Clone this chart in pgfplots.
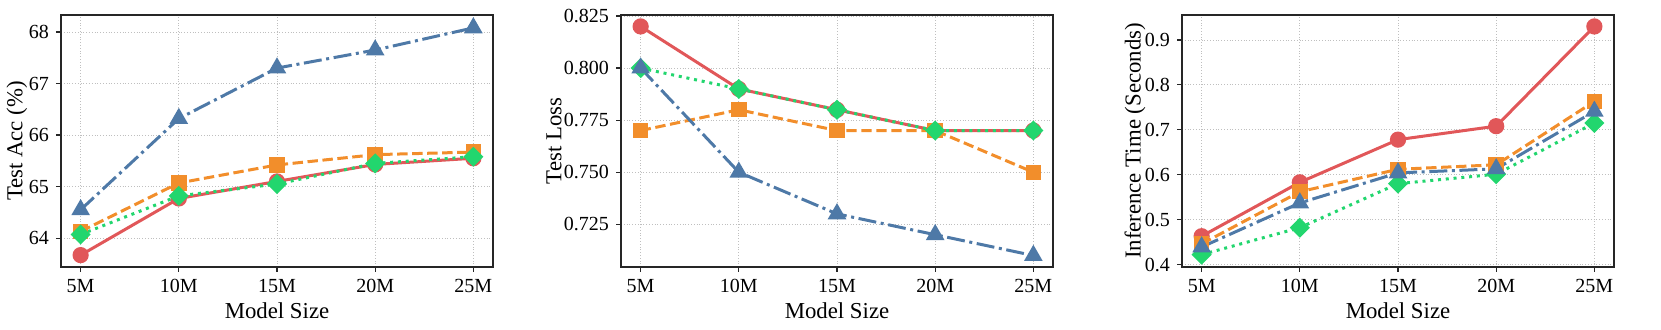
\documentclass[border=0pt]{standalone}
\usepackage{pgfplots}
\pgfplotsset{compat=1.18}
\usepackage{fontspec}
\setmainfont{Liberation Serif}
\definecolor{cred}{HTML}{E15759}
\definecolor{corange}{HTML}{F28E2B}
\definecolor{cblue}{HTML}{4E79A7}
\definecolor{cgreen}{HTML}{22D66E}
\pgfplotsset{
  common/.style={
    scale only axis, width=216pt, height=126pt,
    anchor=south west,
    xmin=-0.2, xmax=4.2,
    xtick={0,1,2,3,4}, xticklabels={5M,10M,15M,20M,25M},
    grid=major,
    major grid style={densely dotted, line width=0.4pt, black!25},
    axis line style={line width=0.6pt, black!85},
    tick style={line width=0.6pt, black!85},
    tick align=outside, major tick length=2.5pt,
    xtick pos=bottom, ytick pos=left,
    tick label style={font=\fontsize{10pt}{11pt}\selectfont},
    label style={font=\fontsize{11.4pt}{13pt}\selectfont},
    /pgf/number format/assume math mode=true,
    xlabel={Model Size},
    xlabel style={yshift=2pt},
  },
  sred/.style={cred, line width=1.5pt, solid, mark=*, mark size=3.3pt, mark options={solid}},
  sorange/.style={corange, line width=1.5pt, dash pattern=on 5.2pt off 2.3pt, mark=square*, mark size=3.1pt, mark options={solid}},
  sgreen/.style={cgreen, line width=1.5pt, dash pattern=on 1.5pt off 2.4pt, mark=square*, mark size=2.8pt, mark options={solid, rotate=45}},
  sblue/.style={cblue, line width=1.5pt, dash pattern=on 9pt off 2.3pt on 1.5pt off 2.3pt, mark=triangle*, mark size=3.9pt, mark options={solid}},
}
\begin{document}
\begin{tikzpicture}
\useasboundingbox (0,0) rectangle (830.5pt,165pt);
% Panel 1
\begin{axis}[common, at={(30.5pt,31.5pt)},
  ymin=63.44, ymax=68.33, ytick={64,65,66,67,68},
  ylabel={Test Acc (\%)},
  ylabel style={at={(axis description cs:0,0.5)}, anchor=center, yshift=22pt}]
\addplot[sred] coordinates {(0,63.67) (1,64.77) (2,65.10) (3,65.43) (4,65.55)};
\addplot[sorange] coordinates {(0,64.13) (1,65.07) (2,65.42) (3,65.62) (4,65.67)};
\addplot[sgreen] coordinates {(0,64.07) (1,64.82) (2,65.05) (3,65.45) (4,65.58)};
\addplot[sblue] coordinates {(0,64.55) (1,66.32) (2,67.30) (3,67.65) (4,68.08)};
\end{axis}
% Panel 2
\begin{axis}[common, at={(310.5pt,31.5pt)},
  ymin=0.7045, ymax=0.8255, ytick={0.725,0.75,0.775,0.8,0.825},
  yticklabel style={/pgf/number format/fixed, /pgf/number format/fixed zerofill, /pgf/number format/precision=3},
  ylabel={Test Loss},
  ylabel style={at={(axis description cs:0,0.5)}, anchor=center, yshift=33.5pt}]
\addplot[sred] coordinates {(0,0.82) (1,0.79) (2,0.78) (3,0.77) (4,0.77)};
\addplot[sorange] coordinates {(0,0.77) (1,0.78) (2,0.77) (3,0.77) (4,0.75)};
\addplot[sgreen] coordinates {(0,0.80) (1,0.79) (2,0.78) (3,0.77) (4,0.77)};
\addplot[sblue] coordinates {(0,0.80) (1,0.75) (2,0.73) (3,0.72) (4,0.71)};
\end{axis}
% Panel 3
\begin{axis}[common, at={(591pt,31.5pt)},
  ymin=0.3945, ymax=0.9555, ytick={0.4,0.5,0.6,0.7,0.8,0.9},
  yticklabel style={/pgf/number format/fixed, /pgf/number format/fixed zerofill, /pgf/number format/precision=1},
  ylabel={Inference Time (Seconds)},
  ylabel style={at={(axis description cs:0,0.5)}, anchor=center, yshift=23.5pt}]
\addplot[sred] coordinates {(0,0.463) (1,0.583) (2,0.678) (3,0.708) (4,0.930)};
\addplot[sorange] coordinates {(0,0.446) (1,0.562) (2,0.612) (3,0.622) (4,0.763)};
\addplot[sgreen] coordinates {(0,0.422) (1,0.482) (2,0.580) (3,0.601) (4,0.715)};
\addplot[sblue] coordinates {(0,0.439) (1,0.537) (2,0.604) (3,0.613) (4,0.741)};
\end{axis}
\end{tikzpicture}
\end{document}
